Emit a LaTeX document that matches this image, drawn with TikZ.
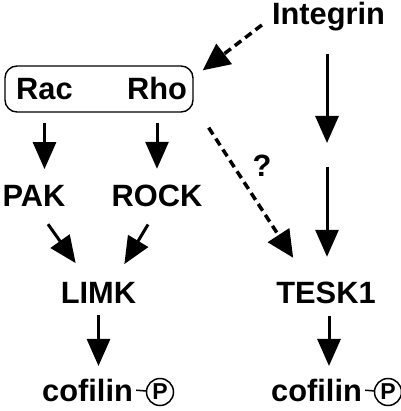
\documentclass[tikz,border=0pt]{standalone}
\usepackage{fontspec}
\setmainfont{Liberation Sans}
\usetikzlibrary{arrows.meta}
\begin{document}
\begin{tikzpicture}[x=1pt,y=-1pt,
  lbl/.style={inner sep=0pt,anchor=base,font=\fontsize{30.8}{36}\selectfont\bfseries},
  arr/.style={line width=3pt,-{Triangle[length=27pt,width=23pt]}},
  darr/.style={line width=3.5pt,dash pattern=on 8pt off 5pt,-{Triangle[length=27pt,width=25pt]}},
  phos/.style={draw,circle,line width=1.5pt,minimum size=27pt,inner sep=0pt,font=\fontsize{23}{26}\selectfont\bfseries},
]
\useasboundingbox (0,0) rectangle (400,411);
% nodes
\node[lbl] (integrin) at (328.5,25) {Integrin};
\node[draw,line width=1.4pt,rounded corners=12pt,minimum width=188pt,minimum height=46pt,inner sep=0pt] (box) at (99,89) {};
\node[lbl] (rac) at (44.5,100) {Rac};
\node[lbl] (rho) at (157,100) {Rho};
\node[lbl] (pak) at (34,207) {PAK};
\node[lbl] (rock) at (157,207) {ROCK};
\node[lbl] (q) at (262,177) {?};
\node[lbl] (limk) at (98.5,303) {LIMK};
\node[lbl] (tesk) at (326,303) {TESK1};
\node[lbl,anchor=base west] (cofA) at (42,401) {cofilin};
\node[lbl,anchor=base west] (cofB) at (271,401) {cofilin};
\node[phos] (pA) at (160,392) {P};
\node[phos] (pB) at (388,392) {P};
\coordinate (mid) at (327,155);
% connectors
\draw[darr] ([xshift=-10pt]integrin.base west) -- ([xshift=9pt,yshift=-5pt]box.north east);
\draw[arr,shorten <=10pt,shorten >=16.5pt] (box.south -| rac) -- (rac |- pak.north);
\draw[arr,shorten <=10pt,shorten >=16.5pt] (box.south -| rho) -- (rho |- rock.north);
\draw[arr,shorten <=22pt,shorten >=12pt] (integrin.south -| mid) -- (mid);
\draw[arr,shorten <=12pt,shorten >=24.5pt] (mid) -- (mid |- tesk.north);
\draw[darr] ([xshift=15pt,yshift=-15pt]box.south east) -- ([xshift=17pt,yshift=23.5pt]tesk.north west);
\draw[arr] ([xshift=14pt,yshift=-17pt]pak.south) -- ([xshift=15pt,yshift=18.5pt]limk.north west);
\draw[arr] ([xshift=-9pt,yshift=-17pt]rock.south) -- ([xshift=-12pt,yshift=17.5pt]limk.north east);
\draw[arr,shorten <=12pt,shorten >=12.5pt] (limk.south) -- (limk.south |- cofA.north);
\draw[arr,shorten <=12pt,shorten >=12.5pt] ([xshift=3pt]tesk.south) -- ([xshift=3pt]tesk.south |- cofB.north);
\draw[line width=1.5pt,shorten <=3pt] (cofA.east) -- (pA);
\draw[line width=1.5pt,shorten <=3pt] (cofB.east) -- (pB);
\end{tikzpicture}
\end{document}
